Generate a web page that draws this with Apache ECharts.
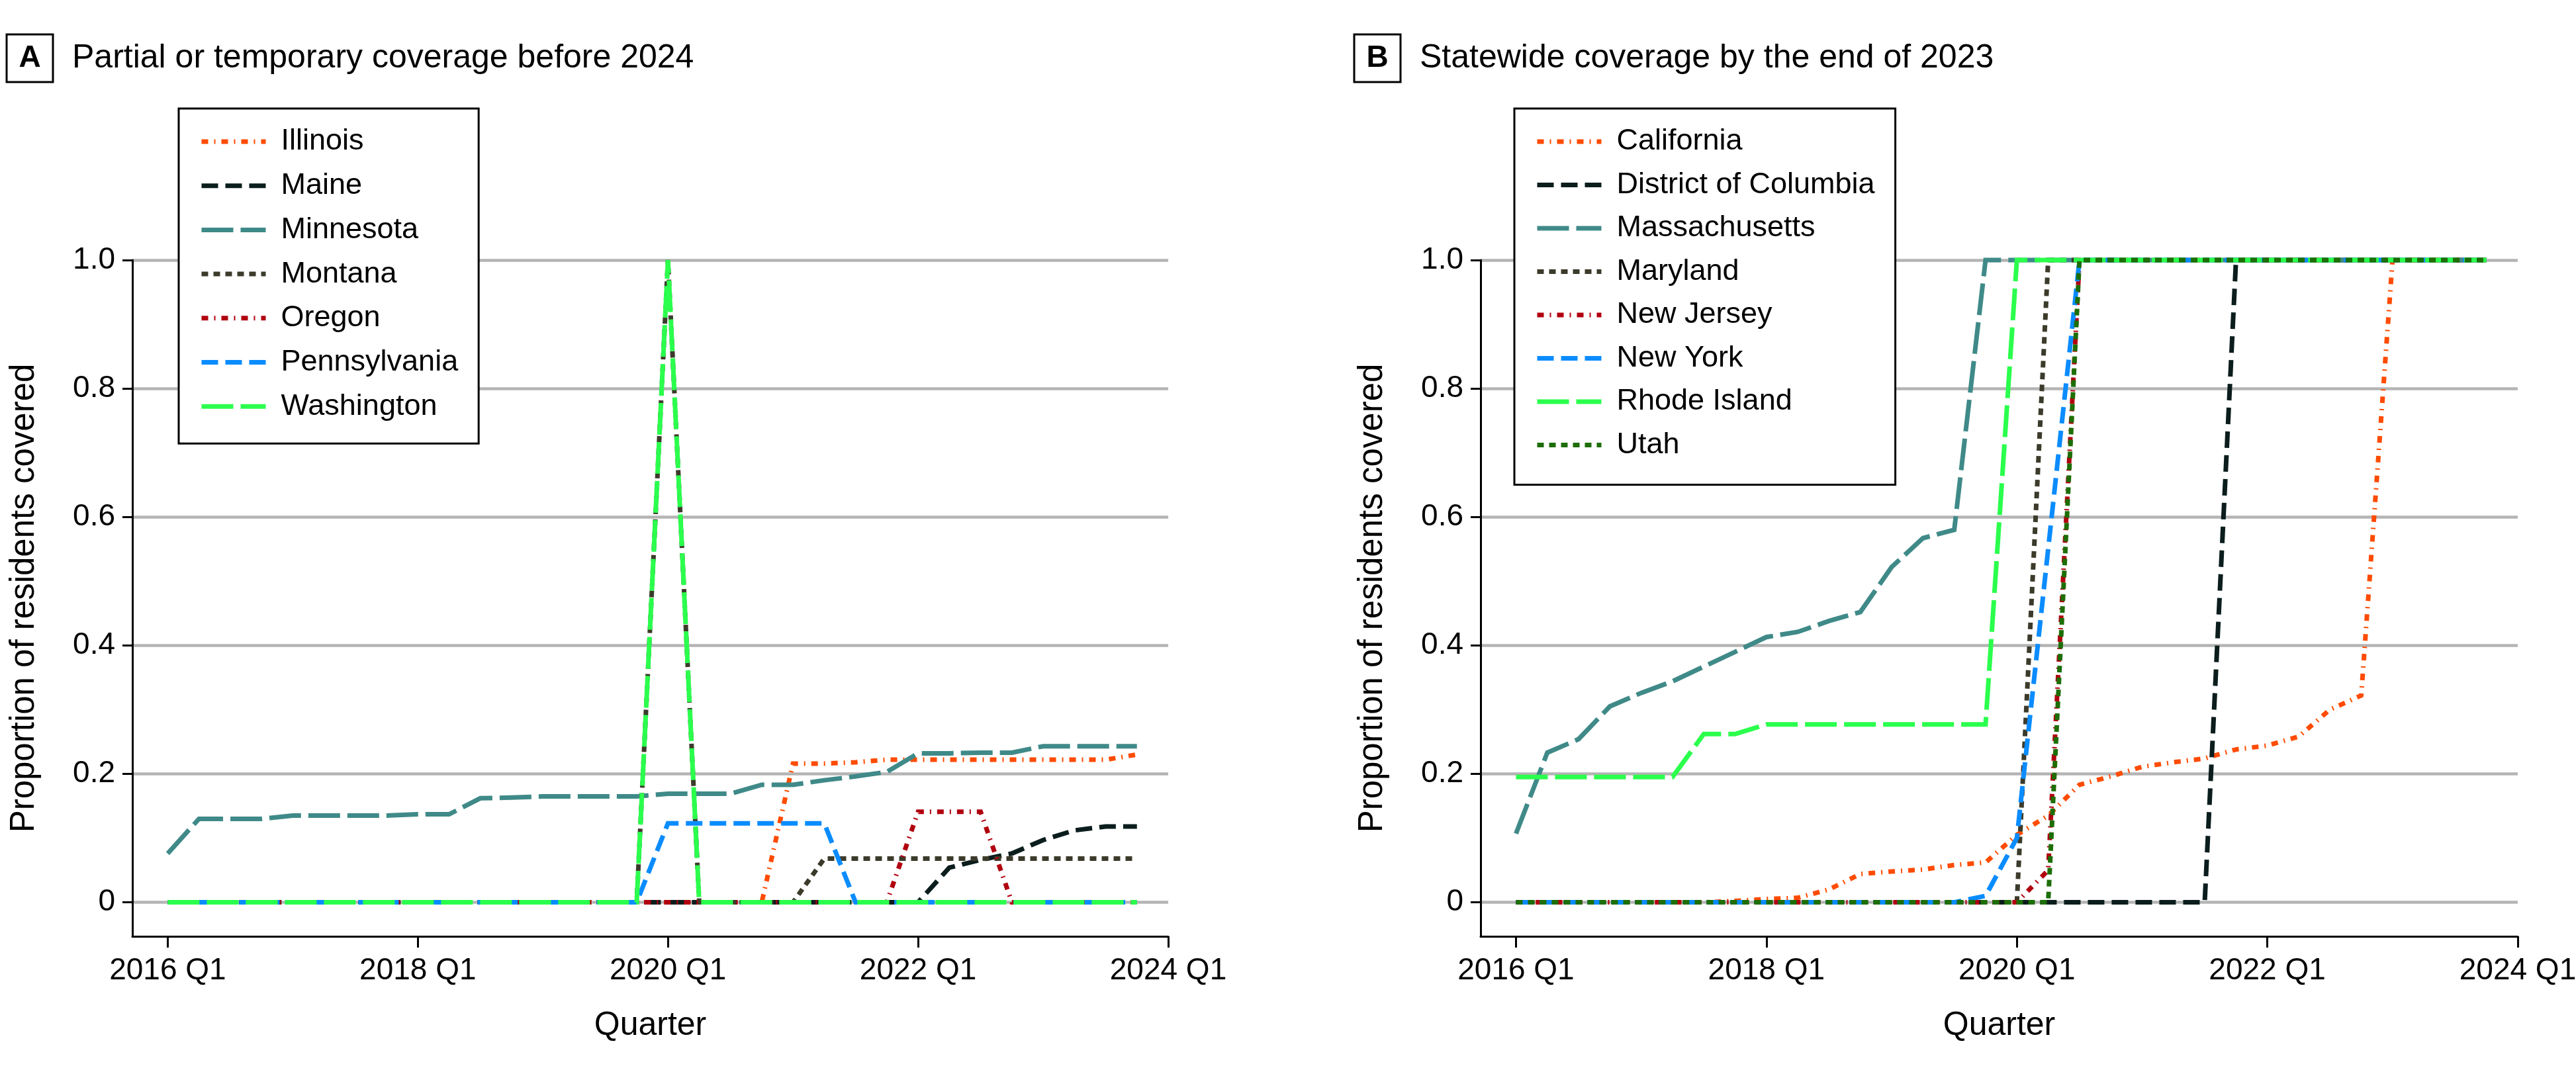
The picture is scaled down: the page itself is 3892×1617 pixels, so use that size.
<!DOCTYPE html>
<html><head><meta charset="utf-8">
<script src="https://cdn.jsdelivr.net/npm/echarts@6/dist/echarts.min.js"></script>
<style>html,body{margin:0;padding:0;background:#fff}#c{width:3892px;height:1617px}</style>
</head><body><div id="c"></div>
<script>
// ---- data ----
const quarters = ['2016 Q1','2016 Q2','2016 Q3','2016 Q4','2017 Q1','2017 Q2','2017 Q3','2017 Q4',
  '2018 Q1','2018 Q2','2018 Q3','2018 Q4','2019 Q1','2019 Q2','2019 Q3','2019 Q4',
  '2020 Q1','2020 Q2','2020 Q3','2020 Q4','2021 Q1','2021 Q2','2021 Q3','2021 Q4',
  '2022 Q1','2022 Q2','2022 Q3','2022 Q4','2023 Q1','2023 Q2','2023 Q3','2023 Q4'];
const xTickValues = [0, 8, 16, 24, 32];
const xTickLabels = ['2016 Q1', '2018 Q1', '2020 Q1', '2022 Q1', '2024 Q1'];
const yTickValues = [0, 0.2, 0.4, 0.6, 0.8, 1.0];
const yTickLabels = ['0', '0.2', '0.4', '0.6', '0.8', '1.0'];

// Panel A
const statesA = ['Illinois','Maine','Minnesota','Montana','Oregon','Pennsylvania','Washington'];
const illinois = [0,0,0,0,0,0,0,0,0,0,0,0,0,0,0,0,0,0,0,0,0.216,0.216,0.218,0.222,0.222,0.222,0.222,0.222,0.222,0.222,0.222,0.23];
const maine = [0,0,0,0,0,0,0,0,0,0,0,0,0,0,0,0,0,0,0,0,0,0,0,0,0,0.054,0.066,0.076,0.097,0.112,0.118,0.118];
const minnesota = [0.076,0.13,0.13,0.13,0.135,0.135,0.135,0.135,0.137,0.137,0.162,0.163,0.165,0.165,0.165,0.165,0.169,0.169,0.169,0.183,0.183,0.19,0.196,0.203,0.232,0.232,0.233,0.233,0.243,0.243,0.243,0.243];
const montana = [0,0,0,0,0,0,0,0,0,0,0,0,0,0,0,0,1.0,0,0,0,0,0.068,0.068,0.068,0.068,0.068,0.068,0.068,0.068,0.068,0.068,0.068];
const oregon = [0,0,0,0,0,0,0,0,0,0,0,0,0,0,0,0,0,0,0,0,0,0,0,0,0.141,0.141,0.141,0,0,0,0,0];
const pennsylvania = [0,0,0,0,0,0,0,0,0,0,0,0,0,0,0,0,0.123,0.123,0.123,0.123,0.123,0.123,0,0,0,0,0,0,0,0,0,0];
const washington = [0,0,0,0,0,0,0,0,0,0,0,0,0,0,0,0,1.0,0,0,0,0,0,0,0,0,0,0,0,0,0,0,0];

// Panel B
const statesB = ['California','District of Columbia','Massachusetts','Maryland','New Jersey','New York','Rhode Island','Utah'];
const california = [0,0,0,0,0,0,0,0.002,0.005,0.007,0.02,0.044,0.048,0.051,0.058,0.062,0.105,0.135,0.183,0.196,0.211,0.218,0.224,0.238,0.244,0.258,0.3,0.322,1,1,1,1];
const dc = [0,0,0,0,0,0,0,0,0,0,0,0,0,0,0,0,0,0,0,0,0,0,0,1,1,1,1,1,1,1,1,1];
const massachusetts = [0.107,0.233,0.254,0.305,0.326,0.344,0.367,0.39,0.413,0.421,0.438,0.452,0.522,0.567,0.58,1,1,1,1,1,1,1,1,1,1,1,1,1,1,1,1,1];
const maryland = [0,0,0,0,0,0,0,0,0,0,0,0,0,0,0,0,0,1,1,1,1,1,1,1,1,1,1,1,1,1,1,1];
const newJersey = [0,0,0,0,0,0,0,0,0,0,0,0,0,0,0,0,0,0.05,1,1,1,1,1,1,1,1,1,1,1,1,1,1];
const newYork = [0,0,0,0,0,0,0,0,0,0,0,0,0,0,0,0.01,0.1,0.55,1,1,1,1,1,1,1,1,1,1,1,1,1,1];
const rhodeIsland = [0.195,0.195,0.195,0.195,0.195,0.195,0.262,0.262,0.277,0.277,0.277,0.277,0.277,0.277,0.277,0.277,1,1,1,1,1,1,1,1,1,1,1,1,1,1,1,1];
const utah = [0,0,0,0,0,0,0,0,0,0,0,0,0,0,0,0,0,0,1,1,1,1,1,1,1,1,1,1,1,1,1,1];

// ---- styles ----
const FONT = 'Liberation Sans';
const C = {orange:'#ff4b00', dark:'#0b1d1d', teal:'#3f8a88', olive:'#3c3b2b', red:'#b1000f', blue:'#0a8cff', green:'#2bff4d', utah:'#1d6e06'};
const dashDot = [10, 9, 2, 9];
const shortDash = [25, 11];
const longDash = [48, 11];
const dots = [10, 8];

function ser(name, values, color, dash, idx) {
  return {
    type: 'line', name: name, xAxisIndex: idx, yAxisIndex: idx,
    data: values.map((v, i) => [i, v]),
    symbol: 'none', showSymbol: false, clip: false, animation: false,
    lineStyle: {color: color, width: 7, type: dash, cap: 'butt', join: 'miter'},
    itemStyle: {color: color},
    emphasis: {disabled: true}
  };
}

const xMin = -1.13, yMin = -0.053;
function xAx(idx) {
  return {
    type: 'value', gridIndex: idx, min: xMin, max: 32,
    name: 'Quarter', nameLocation: 'middle', nameGap: 110, nameMoveOverlap: false,
    nameTextStyle: {fontSize: 50, fontFamily: FONT, color: '#000'},
    axisLine: {show: true, onZero: false, lineStyle: {color: '#000', width: 3}},
    axisTick: {show: true, length: 17, customValues: xTickValues, lineStyle: {color: '#000', width: 3}},
    axisLabel: {show: true, customValues: xTickValues, margin: 29, fontSize: 46, fontFamily: FONT, color: '#000',
      formatter: v => { const k = xTickValues.findIndex(t => Math.abs(t - v) < 1e-9); return k >= 0 ? xTickLabels[k] : ''; }},
    splitLine: {show: false}
  };
}
function yAx(idx) {
  return {
    type: 'value', gridIndex: idx, min: yMin, max: 1,
    name: 'Proportion of residents covered', nameLocation: 'middle', nameGap: 138, nameMoveOverlap: false,
    nameTextStyle: {fontSize: 51, fontFamily: FONT, color: '#000'},
    axisLine: {show: true, onZero: false, lineStyle: {color: '#000', width: 3}},
    axisTick: {show: true, length: 15, customValues: yTickValues, lineStyle: {color: '#000', width: 3}},
    axisLabel: {show: true, customValues: yTickValues, margin: 26, fontSize: 46, fontFamily: FONT, color: '#000',
      formatter: v => { const k = yTickValues.findIndex(t => Math.abs(t - v) < 1e-9); return k >= 0 ? yTickLabels[k] : ''; }},
    splitLine: {show: true, lineStyle: {color: '#b4b4b4', width: 4.5}}
  };
}
function titleRich() {
  return {
    box: {fontSize: 46, fontWeight: 'bold', fontFamily: FONT, color: '#000', width: 70, height: 72, lineHeight: 72,
      align: 'center', verticalAlign: 'middle', borderColor: '#000', borderWidth: 3},
    t: {fontSize: 50, fontWeight: 'normal', fontFamily: FONT, color: '#000', padding: [0, 0, 0, 29], verticalAlign: 'middle', lineHeight: 72}
  };
}
function legendCfg(data, left, gap, padB) {
  return {
    data: data, left: left, top: 164, orient: 'vertical', selectedMode: false,
    padding: [27, 31, padB, 31], itemGap: gap, itemWidth: 97, itemHeight: 1,
    borderColor: '#000', borderWidth: 3, backgroundColor: '#fff',
    textStyle: {fontSize: 45, fontFamily: FONT, color: '#000', padding: [0, 0, 0, 18], lineHeight: 46},
    lineStyle: {width: 7},
    itemStyle: {opacity: 0}
  };
}

const option = {
  animation: false,
  backgroundColor: '#fff',
  title: [
    {left: 10, top: 52, padding: 0, text: '{box|A}{t|Partial or temporary coverage before 2024}', textStyle: {fontWeight: 'normal', rich: titleRich()}},
    {left: 2046, top: 52, padding: 0, text: '{box|B}{t|Statewide coverage by the end of 2023}', textStyle: {fontWeight: 'normal', rich: titleRich()}}
  ],
  legend: [legendCfg(statesA, 270, 20.7, 33), legendCfg(statesB, 2288, 19.5, 37)],
  grid: [
    {left: 200, right: 2127, top: 393, bottom: 202, containLabel: false, outerBoundsMode: 'none'},
    {left: 2237, right: 88, top: 393, bottom: 202, containLabel: false, outerBoundsMode: 'none'}
  ],
  xAxis: [xAx(0), xAx(1)],
  yAxis: [yAx(0), yAx(1)],
  series: [
    ser('Illinois', illinois, C.orange, dashDot, 0),
    ser('Maine', maine, C.dark, shortDash, 0),
    ser('Minnesota', minnesota, C.teal, longDash, 0),
    ser('Montana', montana, C.olive, dots, 0),
    ser('Oregon', oregon, C.red, dashDot, 0),
    ser('Pennsylvania', pennsylvania, C.blue, shortDash, 0),
    ser('Washington', washington, C.green, longDash, 0),
    ser('California', california, C.orange, dashDot, 1),
    ser('District of Columbia', dc, C.dark, shortDash, 1),
    ser('Massachusetts', massachusetts, C.teal, longDash, 1),
    ser('Maryland', maryland, C.olive, dots, 1),
    ser('New Jersey', newJersey, C.red, dashDot, 1),
    ser('New York', newYork, C.blue, shortDash, 1),
    ser('Rhode Island', rhodeIsland, C.green, longDash, 1),
    ser('Utah', utah, C.utah, dots, 1)
  ]
};
const chart = echarts.init(document.getElementById('c'), null, {renderer: 'canvas'});
chart.setOption(option);
</script>
</body></html>
